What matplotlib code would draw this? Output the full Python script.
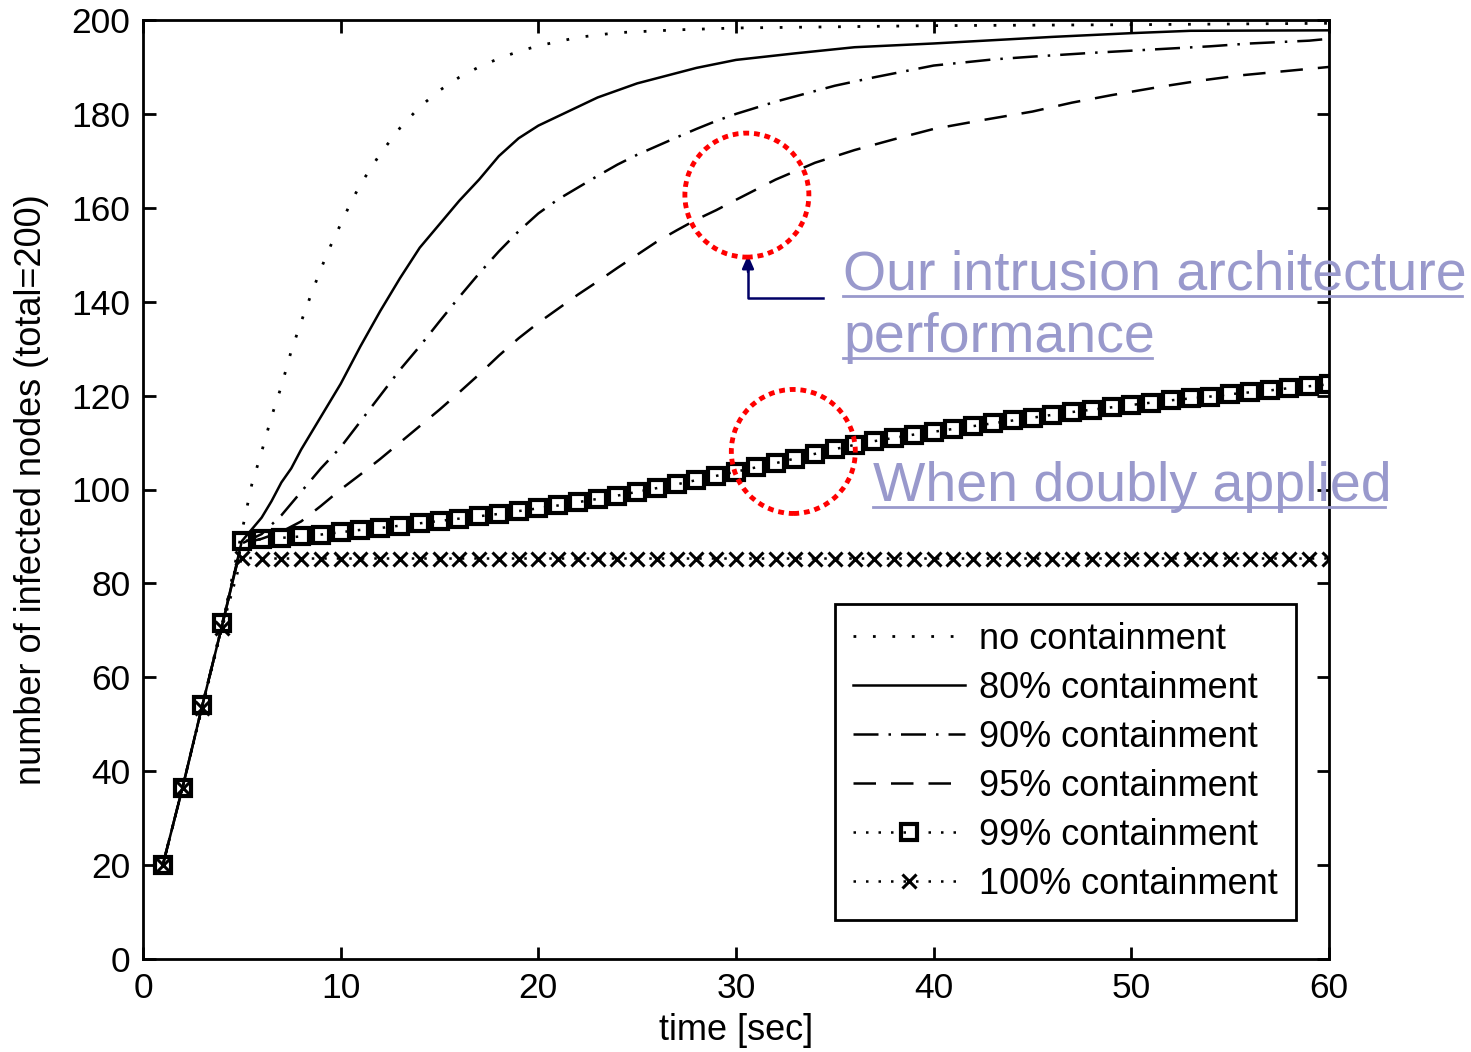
import matplotlib
matplotlib.use("Agg")
import matplotlib.pyplot as plt
from matplotlib.patches import Ellipse
from matplotlib.lines import Line2D

plt.rcParams['font.family'] = ['Liberation Sans', 'DejaVu Sans']

# values
t_none = [1, 2, 3, 4, 5, 5.5, 6, 6.5, 7, 7.5, 8, 8.5, 9, 9.5, 10, 10.5, 11, 12, 13, 14, 15,
          16, 17, 18, 19, 20, 22, 24, 27, 30, 40, 50, 60]
v_none = [20, 36.5, 54, 71, 91, 101, 108, 115.5, 122, 129.5, 135.7, 141.5, 147, 152, 156.5, 161,
          165, 171.5, 177, 181.5, 185, 187.8, 190, 191.8, 193.3, 194.5, 196.3, 197.3, 197.9,
          198.3, 198.8, 199, 199.3]

t_80 = [1, 2, 3, 4, 5, 6, 6.5, 7, 7.5, 8, 9, 10, 11, 12, 13, 14, 15, 16, 17, 18, 19, 20, 21,
        22, 23, 25, 28, 30, 33, 36, 40, 43, 46, 50, 53, 60]
v_80 = [20, 36.5, 54, 71, 89, 94, 97.5, 101.5, 104.5, 108.5, 115.5, 122.5, 130.5, 138, 145,
        151.5, 156.5, 161.5, 166, 171, 174.8, 177.5, 179.5, 181.5, 183.5, 186.5, 189.8, 191.5,
        192.9, 194.2, 195, 195.7, 196.4, 197.2, 197.7, 197.8]

t_90 = [1, 2, 3, 4, 5, 6, 7, 8, 9, 10, 11, 12, 13, 14, 15, 16, 17, 18, 19, 20, 21, 22, 23, 24,
        25, 27, 28, 29, 30, 32, 35, 37, 40, 43, 45, 48, 51, 54, 56, 59, 60]
v_90 = [20, 36.5, 54, 71, 88.5, 90.5, 94.5, 99.5, 104.5, 109, 114.5, 120, 125.5, 130.5, 135.8,
        141, 146, 150.7, 155, 158.8, 161.8, 164.3, 166.8, 169.2, 171.3, 175, 176.8, 178.5,
        180, 182.6, 186, 187.8, 190.3, 191.6, 192.2, 193, 193.7, 194.4, 195, 195.6, 196]

t_95 = [1, 2, 3, 4, 5, 6, 7, 8, 9, 10, 11, 12, 13, 14, 15, 16, 17, 18, 19, 20, 21, 22, 23, 24,
        25, 26, 27, 28, 29, 30, 32, 34, 36, 38, 40, 42.5, 45, 47, 49, 51.5, 53.5, 55.5, 58, 60]
v_95 = [20, 36.5, 54, 71, 88.5, 89.5, 91, 93.2, 96.5, 100, 103.2, 106.5, 110, 113.5, 117,
        120.7, 124.5, 128.5, 132.2, 135.5, 138.5, 141.5, 144.3, 147.2, 150, 152.8, 155.2, 157.5,
        159.5, 161.7, 166, 169.6, 172.3, 174.6, 176.8, 178.7, 180.5, 182.4, 184, 185.8, 187.1,
        188.2, 189.2, 190]

t_sec = list(range(1, 61))
v_99 = [20, 36.5, 54, 71.5, 89, 89.4, 89.7, 90, 90.4, 90.9, 91.4, 91.8, 92.3, 92.8, 93.3,
        93.8, 94.3, 94.8, 95.4, 96, 96.6, 97.3, 98, 98.7, 99.5, 100.3, 101.1, 102, 102.9, 103.8,
        104.7, 105.6, 106.6, 107.6, 108.6, 109.5, 110.3, 111, 111.7, 112.3, 112.9, 113.5, 114.1,
        114.7, 115.3, 115.9, 116.5, 117, 117.5, 118, 118.5, 119, 119.4, 119.8, 120.3, 120.7,
        121.1, 121.6, 122, 122.4]
v_100 = [20, 36.5, 53.5, 70.5, 85.5, 85.3, 85.3, 85.3, 85.3, 85.3, 85.3, 85.3, 85.3, 85.3,
         85.3, 85.3, 85.3, 85.3, 85.3, 85.3, 85.3, 85.3, 85.3, 85.3, 85.3, 85.3, 85.3, 85.3,
         85.3, 85.3, 85.3, 85.3, 85.3, 85.3, 85.3, 85.3, 85.3, 85.3, 85.3, 85.3, 85.3, 85.3,
         85.3, 85.3, 85.3, 85.3, 85.3, 85.3, 85.3, 85.3, 85.3, 85.3, 85.3, 85.3, 85.3, 85.3,
         85.3, 85.3, 85.3, 85.3]

labels = ['no containment', '80% containment', '90% containment', '95% containment',
          '99% containment', '100% containment']

W, H = 1471, 1052
fig = plt.figure(figsize=(W / 100, H / 100), dpi=100)
ax = fig.add_axes([143 / W, 1 - 959 / H, (1329 - 143) / W, (959 - 20) / H])

lw = 1.8
ax.plot(t_none, v_none, color='k', lw=2, linestyle=(0, (1, 6)), label=labels[0])
ax.plot(t_80, v_80, color='k', lw=lw, linestyle='-', label=labels[1])
ax.plot(t_90, v_90, color='k', lw=lw, linestyle=(0, (10, 4, 1, 4)), label=labels[2])
ax.plot(t_95, v_95, color='k', lw=lw, linestyle=(0, (9, 6)), label=labels[3])
ax.plot(t_sec, v_99, color='k', lw=lw, linestyle=(0, (1, 4)), marker='s', ms=12,
        mfc='none', mec='k', mew=3, label=labels[4])
ax.plot(t_sec, v_100, color='k', lw=lw, linestyle=(0, (1, 4)), marker='x', ms=10,
        mec='k', mew=2.2, label=labels[5])

ax.set_xlim(0, 60)
ax.set_ylim(0, 200)
ax.set_xticks(range(0, 61, 10))
ax.set_yticks(range(0, 201, 20))
ax.tick_params(direction='in', length=9, width=2, labelsize=25.5, pad=9,
               top=True, right=True)
for s in ax.spines.values():
    s.set_linewidth(2)
ax.set_xlabel('time [sec]', fontsize=26, labelpad=6)
ax.set_ylabel('number of infected nodes (total=200)', fontsize=26, labelpad=16)

leg = ax.legend(loc='lower right', bbox_to_anchor=(0.972, 0.0415), fontsize=26,
                handlelength=3.1, handletextpad=0.4, labelspacing=0.39, borderpad=0.5,
                fancybox=False, framealpha=1, numpoints=1, borderaxespad=0)
leg.get_frame().set_edgecolor('k')
leg.get_frame().set_linewidth(2)

# red dotted circles (sizes from pixel radius 62)
rx = 124 / 19.77
ry = 124 / 4.695
for cx, cy in [(30.55, 162.7), (32.9, 108.1)]:
    ax.add_patch(Ellipse((cx, cy), rx, ry, fill=False, edgecolor='red', lw=3.5,
                         linestyle=(0, (1.2, 1.0)), clip_on=False, zorder=5))

# annotation texts with underlines, placed in figure pixels
lav = '#9999cc'
def fx(x):
    return x / W
def fy(y):
    return 1 - y / H

notes = [('Our intrusion architecture', 843, 290, 1462, 296),
         ('performance', 843, 352, 1152, 358),
         ('When doubly applied', 873, 501, 1385, 507)]
for txt, x0, yb, x1, yu in notes:
    fig.text(fx(x0), fy(yb), txt, fontsize=40, color=lav, va='baseline', ha='left')
    fig.add_artist(Line2D([fx(x0), fx(x1)], [fy(yu), fy(yu)], color=lav, lw=2))

# navy elbow arrow
navy = '#000066'
fig.add_artist(Line2D([fx(823), fx(748), fx(748)], [fy(298), fy(298), fy(270)],
                      color=navy, lw=1.8))
ax.annotate('', xy=(fx(748), fy(255)), xytext=(fx(748), fy(272)),
            xycoords='figure fraction', textcoords='figure fraction',
            arrowprops=dict(arrowstyle='-|>,head_width=0.35,head_length=0.8',
                            color=navy, lw=1.8, shrinkA=0, shrinkB=0))

fig.savefig('out.png', dpi=100)
